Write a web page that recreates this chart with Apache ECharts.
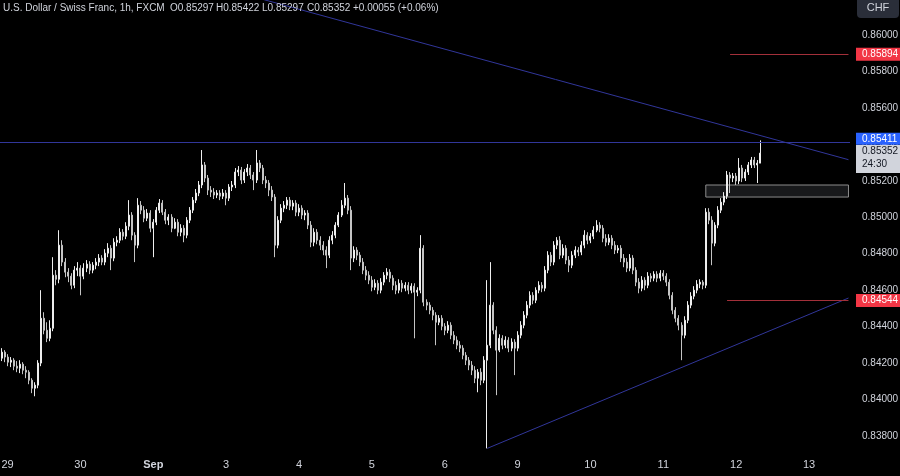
<!DOCTYPE html>
<html><head><meta charset="utf-8">
<script src="https://cdn.jsdelivr.net/npm/echarts@6/dist/echarts.min.js"></script>
<style>html,body{margin:0;padding:0;background:#000;}#c{width:900px;height:476px;}</style>
</head><body><div id="c"></div>
<script>
// hourly candles: [open, close, low, high]
const candles = [
[0.84227,0.84260,0.84211,0.84282],[0.84260,0.84233,0.84205,0.84271],[0.84233,0.84205,0.84183,0.84249],[0.84205,0.84216,0.84178,0.84233],
[0.84216,0.84183,0.84161,0.84227],[0.84183,0.84172,0.84150,0.84211],[0.84172,0.84194,0.84145,0.84216],[0.84194,0.84161,0.84139,0.84205],
[0.84161,0.84150,0.84117,0.84183],[0.84150,0.84106,0.84084,0.84161],[0.84106,0.84062,0.84035,0.84117],[0.84062,0.84079,0.84018,0.84095],
[0.84079,0.84200,0.84062,0.84216],[0.84200,0.84446,0.84183,0.84600],[0.84446,0.84380,0.84358,0.84479],[0.84380,0.84336,0.84315,0.84424],
[0.84336,0.84391,0.84320,0.84435],[0.84391,0.84682,0.84375,0.84781],[0.84682,0.84660,0.84627,0.84710],[0.84660,0.84847,0.84638,0.84929],
[0.84847,0.84754,0.84732,0.84874],[0.84754,0.84699,0.84671,0.84776],[0.84699,0.84677,0.84644,0.84721],[0.84677,0.84627,0.84605,0.84693],
[0.84627,0.84710,0.84611,0.84732],[0.84710,0.84721,0.84677,0.84754],[0.84721,0.84677,0.84572,0.84737],[0.84677,0.84721,0.84660,0.84748],
[0.84721,0.84743,0.84699,0.84765],[0.84743,0.84710,0.84688,0.84759],[0.84710,0.84737,0.84693,0.84754],[0.84737,0.84754,0.84715,0.84776],
[0.84754,0.84776,0.84732,0.84798],[0.84776,0.84754,0.84737,0.84792],[0.84754,0.84803,0.84737,0.84825],[0.84803,0.84830,0.84781,0.84858],
[0.84830,0.84776,0.84710,0.84847],[0.84776,0.84863,0.84759,0.84885],[0.84863,0.84874,0.84841,0.84896],[0.84874,0.84918,0.84858,0.84940],
[0.84918,0.84896,0.84874,0.84935],[0.84896,0.84951,0.84880,0.84973],[0.84951,0.85012,0.84929,0.85094],[0.85012,0.84902,0.84874,0.85028],
[0.84902,0.84847,0.84754,0.84918],[0.84847,0.85066,0.84830,0.85105],[0.85066,0.85039,0.85017,0.85089],[0.85039,0.84995,0.84973,0.85061],
[0.84995,0.85023,0.84979,0.85045],[0.85023,0.84940,0.84918,0.85039],[0.84940,0.84973,0.84781,0.84990],[0.84973,0.85039,0.84957,0.85056],
[0.85039,0.85078,0.85023,0.85100],[0.85078,0.85028,0.85012,0.85094],[0.85028,0.84984,0.84962,0.85045],[0.84984,0.85001,0.84957,0.85017],
[0.85001,0.84940,0.84918,0.85017],[0.84940,0.84973,0.84935,0.84995],[0.84973,0.84918,0.84896,0.84990],[0.84918,0.84940,0.84896,0.84962],
[0.84940,0.84902,0.84863,0.84957],[0.84902,0.84984,0.84885,0.85001],[0.84984,0.85039,0.84968,0.85056],[0.85039,0.85094,0.85023,0.85111],
[0.85094,0.85133,0.85078,0.85155],[0.85133,0.85177,0.85116,0.85199],[0.85177,0.85287,0.85160,0.85369],[0.85287,0.85215,0.85193,0.85303],
[0.85215,0.85149,0.85122,0.85232],[0.85149,0.85138,0.85111,0.85171],[0.85138,0.85122,0.85100,0.85160],[0.85122,0.85133,0.85105,0.85149],
[0.85133,0.85116,0.85094,0.85149],[0.85116,0.85133,0.85100,0.85155],[0.85133,0.85105,0.85066,0.85149],[0.85105,0.85166,0.85089,0.85182],
[0.85166,0.85177,0.85144,0.85199],[0.85177,0.85248,0.85160,0.85270],[0.85248,0.85259,0.85226,0.85281],[0.85259,0.85204,0.85182,0.85276],
[0.85204,0.85248,0.85188,0.85264],[0.85248,0.85270,0.85226,0.85292],[0.85270,0.85232,0.85210,0.85287],[0.85232,0.85204,0.85149,0.85248],
[0.85204,0.85298,0.85188,0.85369],[0.85298,0.85270,0.85248,0.85314],[0.85270,0.85204,0.85182,0.85287],[0.85204,0.85188,0.85160,0.85226],
[0.85188,0.85149,0.85116,0.85204],[0.85149,0.85111,0.85089,0.85171],[0.85111,0.84847,0.84781,0.85127],[0.84847,0.84984,0.84830,0.85006],
[0.84984,0.85050,0.84968,0.85072],[0.85050,0.85066,0.85028,0.85089],[0.85066,0.85094,0.85045,0.85111],[0.85094,0.85061,0.85039,0.85111],
[0.85061,0.85078,0.85039,0.85094],[0.85078,0.85028,0.85006,0.85094],[0.85028,0.85050,0.85006,0.85072],[0.85050,0.85012,0.84990,0.85066],
[0.85012,0.85023,0.84984,0.85039],[0.85023,0.84957,0.84935,0.85039],[0.84957,0.84863,0.84836,0.84979],[0.84863,0.84918,0.84841,0.84940],
[0.84918,0.84874,0.84852,0.84935],[0.84874,0.84847,0.84820,0.84896],[0.84847,0.84820,0.84792,0.84869],[0.84820,0.84792,0.84721,0.84841],
[0.84792,0.84874,0.84776,0.84896],[0.84874,0.84902,0.84852,0.84924],[0.84902,0.84957,0.84885,0.84973],[0.84957,0.85012,0.84946,0.85028],
[0.85012,0.85066,0.85001,0.85094],[0.85066,0.85105,0.85050,0.85188],[0.85105,0.85039,0.85017,0.85122],[0.85039,0.84776,0.84710,0.85061],
[0.84776,0.84820,0.84754,0.84841],[0.84820,0.84792,0.84765,0.84836],[0.84792,0.84754,0.84732,0.84809],[0.84754,0.84710,0.84688,0.84776],
[0.84710,0.84682,0.84655,0.84732],[0.84682,0.84655,0.84633,0.84704],[0.84655,0.84616,0.84594,0.84677],[0.84616,0.84638,0.84600,0.84660],
[0.84638,0.84600,0.84578,0.84655],[0.84600,0.84644,0.84583,0.84666],[0.84644,0.84682,0.84627,0.84699],[0.84682,0.84699,0.84660,0.84721],
[0.84699,0.84666,0.84644,0.84715],[0.84666,0.84627,0.84600,0.84682],[0.84627,0.84600,0.84578,0.84649],[0.84600,0.84638,0.84583,0.84660],
[0.84638,0.84611,0.84589,0.84655],[0.84611,0.84627,0.84594,0.84644],[0.84627,0.84600,0.84578,0.84644],[0.84600,0.84622,0.84583,0.84638],
[0.84622,0.84589,0.84336,0.84638],[0.84589,0.84600,0.84567,0.84616],[0.84600,0.84830,0.84583,0.84902],[0.84830,0.84534,0.84512,0.84847],
[0.84534,0.84518,0.84490,0.84550],[0.84518,0.84490,0.84468,0.84534],[0.84490,0.84463,0.84435,0.84507],[0.84463,0.84424,0.84298,0.84479],
[0.84424,0.84446,0.84408,0.84463],[0.84446,0.84402,0.84380,0.84463],[0.84402,0.84380,0.84353,0.84419],[0.84380,0.84408,0.84364,0.84430],
[0.84408,0.84353,0.84331,0.84424],[0.84353,0.84326,0.84304,0.84375],[0.84326,0.84298,0.84276,0.84347],[0.84298,0.84282,0.84260,0.84320],
[0.84282,0.84243,0.84221,0.84298],[0.84243,0.84216,0.84189,0.84260],[0.84216,0.84189,0.84161,0.84233],[0.84189,0.84161,0.84134,0.84211],
[0.84161,0.84117,0.84090,0.84183],[0.84117,0.84150,0.84040,0.84167],[0.84150,0.84106,0.84079,0.84172],[0.84106,0.84216,0.84090,0.84238],
[0.84216,0.84298,0.83732,0.84655],[0.84298,0.84518,0.84282,0.84754],[0.84518,0.84380,0.84358,0.84534],[0.84380,0.84271,0.84024,0.84402],
[0.84271,0.84336,0.84260,0.84358],[0.84336,0.84298,0.84276,0.84353],[0.84298,0.84326,0.84282,0.84347],[0.84326,0.84282,0.84260,0.84342],
[0.84282,0.84315,0.84265,0.84336],[0.84315,0.84282,0.84134,0.84331],[0.84282,0.84353,0.84265,0.84375],[0.84353,0.84408,0.84336,0.84430],
[0.84408,0.84463,0.84391,0.84485],[0.84463,0.84518,0.84446,0.84540],[0.84518,0.84572,0.84501,0.84594],[0.84572,0.84545,0.84523,0.84589],
[0.84545,0.84600,0.84529,0.84616],[0.84600,0.84627,0.84583,0.84649],[0.84627,0.84611,0.84589,0.84644],[0.84611,0.84710,0.84594,0.84732],
[0.84710,0.84792,0.84693,0.84814],[0.84792,0.84754,0.84732,0.84809],[0.84754,0.84847,0.84737,0.84869],[0.84847,0.84874,0.84825,0.84891],
[0.84874,0.84792,0.84770,0.84896],[0.84792,0.84830,0.84776,0.84852],[0.84830,0.84765,0.84743,0.84847],[0.84765,0.84737,0.84699,0.84787],
[0.84737,0.84792,0.84721,0.84814],[0.84792,0.84820,0.84776,0.84841],[0.84820,0.84809,0.84787,0.84836],[0.84809,0.84847,0.84792,0.84869],
[0.84847,0.84902,0.84830,0.84929],[0.84902,0.84874,0.84852,0.84918],[0.84874,0.84896,0.84858,0.84913],[0.84896,0.84929,0.84880,0.84951],
[0.84929,0.84957,0.84918,0.84984],[0.84957,0.84940,0.84918,0.84973],[0.84940,0.84885,0.84863,0.84957],[0.84885,0.84863,0.84841,0.84907],
[0.84863,0.84885,0.84847,0.84907],[0.84885,0.84847,0.84825,0.84902],[0.84847,0.84820,0.84798,0.84869],[0.84820,0.84830,0.84803,0.84847],
[0.84830,0.84776,0.84754,0.84847],[0.84776,0.84754,0.84726,0.84798],[0.84754,0.84721,0.84699,0.84776],[0.84721,0.84776,0.84704,0.84798],
[0.84776,0.84710,0.84688,0.84792],[0.84710,0.84644,0.84622,0.84726],[0.84644,0.84611,0.84583,0.84666],[0.84611,0.84655,0.84594,0.84677],
[0.84655,0.84627,0.84600,0.84671],[0.84627,0.84677,0.84611,0.84699],[0.84677,0.84666,0.84644,0.84693],[0.84666,0.84688,0.84649,0.84704],
[0.84688,0.84666,0.84644,0.84704],[0.84666,0.84693,0.84649,0.84710],[0.84693,0.84677,0.84655,0.84710],[0.84677,0.84644,0.84622,0.84693],
[0.84644,0.84572,0.84550,0.84660],[0.84572,0.84490,0.84468,0.84589],[0.84490,0.84446,0.84424,0.84507],[0.84446,0.84408,0.84380,0.84463],
[0.84408,0.84353,0.84216,0.84424],[0.84353,0.84435,0.84336,0.84457],[0.84435,0.84518,0.84419,0.84540],[0.84518,0.84567,0.84501,0.84589],
[0.84567,0.84600,0.84550,0.84622],[0.84600,0.84633,0.84583,0.84655],[0.84633,0.84644,0.84611,0.84660],[0.84644,0.84627,0.84605,0.84655],
[0.84627,0.85028,0.84611,0.85050],[0.85028,0.84984,0.84962,0.85050],[0.84984,0.84858,0.84737,0.85006],[0.84858,0.84957,0.84841,0.84973],
[0.84957,0.85039,0.84940,0.85061],[0.85039,0.85083,0.85023,0.85105],[0.85083,0.85116,0.85066,0.85138],[0.85116,0.85232,0.85100,0.85254],
[0.85232,0.85215,0.85133,0.85248],[0.85215,0.85226,0.85193,0.85243],[0.85226,0.85199,0.85177,0.85243],[0.85199,0.85270,0.85182,0.85325],
[0.85270,0.85215,0.85193,0.85287],[0.85215,0.85248,0.85199,0.85264],[0.85248,0.85287,0.85232,0.85303],[0.85287,0.85314,0.85270,0.85331],
[0.85314,0.85287,0.85270,0.85331],[0.85287,0.85297,0.85188,0.85314],[0.85297,0.85352,0.85297,0.85422]
];
const dayLabels = ['29','30','Sep','3','4','5','6','9','10','11','12','13'];
const resistanceLevel = 0.85411;
const upperTarget = 0.85894;
const lowerTarget = 0.84544;
const lastClose = 0.85352;
const countdown = '24:30';
// trendlines as [barIndex, price] pairs
const downTrend = [[86, 0.86196], [279, 0.85316]];
const upTrend = [[160, 0.83732], [279, 0.84557]];
const zoneBox = [[232, 0.85177], [279, 0.85111]];
const targetStartBar = [240, 239];
const header = 'U.S. Dollar / Swiss Franc, 1h, FXCM';
const ohlcText = ['O0.85297', 'H0.85422', 'L0.85297', 'C0.85352', '+0.00055 (+0.06%)'];

const TOTAL_BARS = 280, FIRST_DAY_BAR = 2, BARS_PER_DAY = 24;
const cats = Array.from({length: TOTAL_BARS}, (_, i) => String(i));
const labelAt = {};
dayLabels.forEach((d, k) => { labelAt[FIRST_DAY_BAR + BARS_PER_DAY * k] = d; });

const FONT = "'Liberation Sans',Arial,sans-serif";
const chart = echarts.init(document.getElementById('c'), null, {renderer: 'canvas'});
const blue = '#31369a';
const red = '#a3303a';
chart.setOption({
  animation: false,
  backgroundColor: '#000000',
  grid: {left: 0, right: 50, top: -1.45, bottom: 3.55, outerBoundsMode: 'none', containLabel: false},
  xAxis: {
    type: 'category', data: cats, boundaryGap: true, offset: -21,
    axisLine: {show: false}, axisTick: {show: false}, splitLine: {show: false},
    axisLabel: {
      interval: 0, color: '#d1d4dc', fontSize: 11, fontFamily: FONT, margin: 8,
      formatter: (v, i) => labelAt[i] ? (labelAt[i] === 'Sep' ? '{b|Sep}' : labelAt[i]) : '',
      rich: {b: {fontWeight: 'bold', color: '#d1d4dc', fontSize: 11, fontFamily: FONT}}
    }
  },
  yAxis: {
    type: 'value', position: 'right', min: 0.836, max: 0.862, interval: 0.002,
    axisLine: {show: false}, axisTick: {show: false}, splitLine: {show: false},
    axisLabel: {showMinLabel: false, showMaxLabel: false, color: '#d1d4dc', fontSize: 10, fontFamily: FONT, margin: 12,
      formatter: v => v.toFixed(5)}
  },
  series: [{
    type: 'candlestick', data: candles, barWidth: 1.5,
    itemStyle: {color: '#eeeeee', color0: '#c4c4c4', borderColor: '#eeeeee', borderColor0: '#c4c4c4', borderWidth: 1},
    markLine: {
      silent: true, symbol: ['none', 'none'], label: {show: false}, animation: false, precision: 5,
      data: [
        {yAxis: resistanceLevel, lineStyle: {color: blue, width: 1, type: 'solid'}},
        [{coord: downTrend[0], lineStyle: {color: blue, width: 1, type: 'solid'}}, {coord: downTrend[1]}],
        [{coord: upTrend[0], lineStyle: {color: blue, width: 1, type: 'solid'}}, {coord: upTrend[1]}],
        [{coord: [targetStartBar[0], upperTarget], lineStyle: {color: red, width: 1, type: 'solid'}}, {coord: [279, upperTarget]}],
        [{coord: [targetStartBar[1], lowerTarget], lineStyle: {color: red, width: 1, type: 'solid'}}, {coord: [279, lowerTarget]}]
      ]
    },
    markArea: {
      silent: true,
      itemStyle: {color: 'rgba(120,123,134,0.2)', borderColor: '#8c8c8c', borderWidth: 1},
      data: [[{coord: zoneBox[0]}, {coord: zoneBox[1]}]]
    }
  }]
});

const py = v => chart.convertToPixel({yAxisIndex: 0}, v);
function badge(y, h, fill, textColor, lines) {
  const els = [{type: 'rect', shape: {x: 856, y: y, width: 44, height: h}, style: {fill: fill}, z: 100}];
  lines.forEach((t, k) => els.push({type: 'text', x: 862, y: y + 6.5 + k * 13,
    style: {text: t, fill: textColor, font: '10px ' + FONT, textVerticalAlign: 'middle'}, z: 101}));
  return els;
}
const g = [];
g.push(...badge(py(upperTarget) - 6.5, 13, '#f23645', '#ffffff', [upperTarget.toFixed(5)]));
g.push(...badge(py(resistanceLevel) - 9.5, 12, '#2962ff', '#ffffff', [resistanceLevel.toFixed(5)]));
g.push(...badge(py(lastClose) - 8, 28, '#d1d4dc', '#131722', [lastClose.toFixed(5), countdown]));
g.push(...badge(py(lowerTarget) - 6.5, 13, '#f23645', '#ffffff', [lowerTarget.toFixed(5)]));
g.push({type: 'rect', shape: {x: 857, y: -4, width: 42, height: 22, r: 4}, style: {fill: '#2a2e39'}, z: 100});
g.push({type: 'text', x: 878, y: 8, style: {text: 'CHF', fill: '#d1d4dc', font: '11px ' + FONT, textAlign: 'center', textVerticalAlign: 'middle'}, z: 101});
g.push({type: 'text', x: 3, y: 8, style: {text: header, fill: '#d1d4dc', font: '10px ' + FONT, textVerticalAlign: 'middle'}, z: 101});
const ohlcX = [170, 216, 262, 307, 353];
ohlcText.forEach((t, k) => g.push({type: 'text', x: ohlcX[k], y: 8, style: {text: t, fill: '#d1d4dc', font: '10px ' + FONT, textVerticalAlign: 'middle'}, z: 101}));
chart.setOption({graphic: g});
</script></body></html>
